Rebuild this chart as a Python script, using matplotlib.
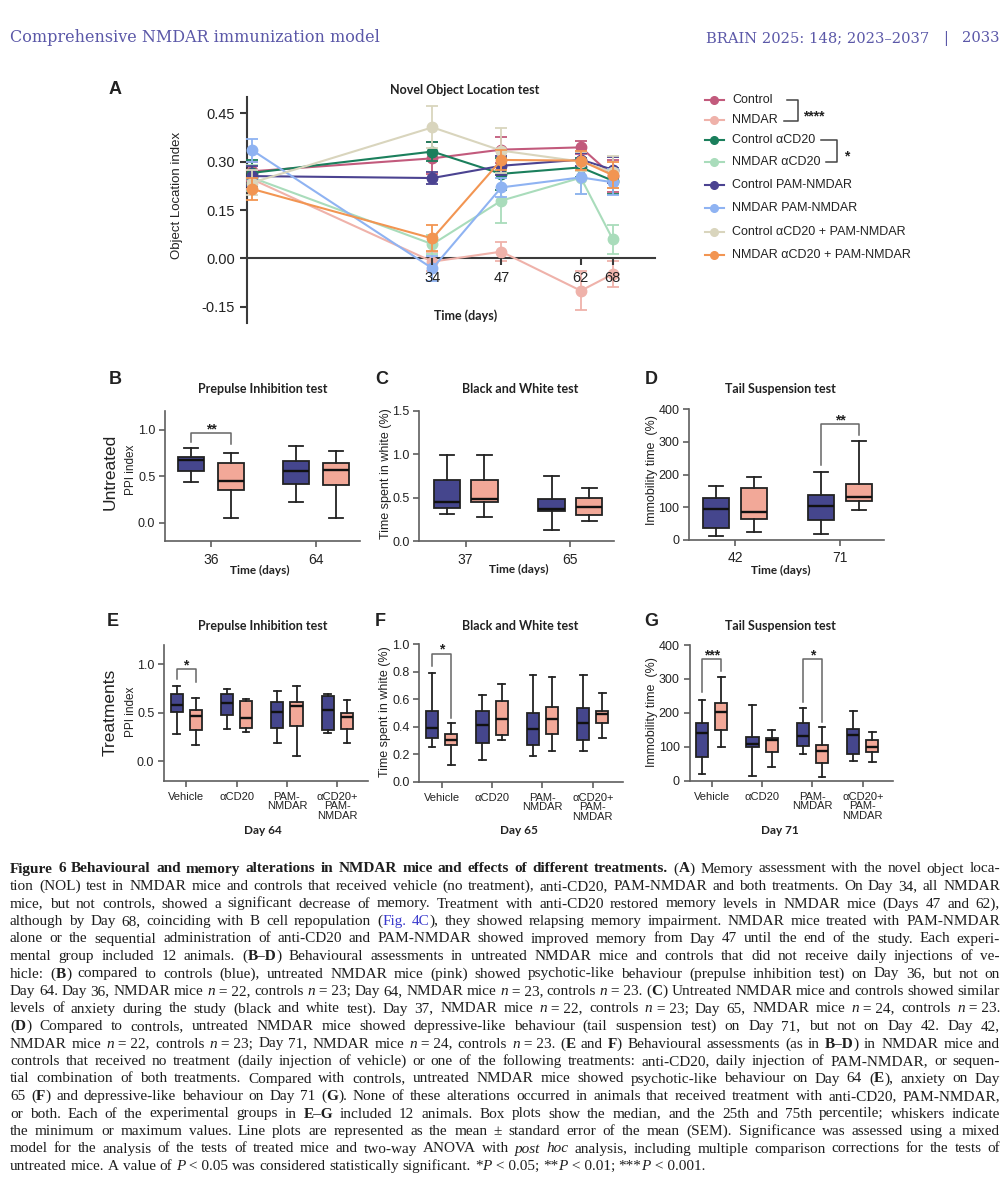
import matplotlib
matplotlib.use('Agg')
import matplotlib.pyplot as plt
from matplotlib import font_manager

# ---------------- data ----------------
nol_days = [0, 34, 47, 62, 68]
nol_tick_days = [34, 47, 62, 68]
nol_groups = ['Control', 'NMDAR', 'Control αCD20', 'NMDAR αCD20', 'Control PAM-NMDAR',
              'NMDAR PAM-NMDAR', 'Control αCD20 + PAM-NMDAR', 'NMDAR αCD20 + PAM-NMDAR']
nol_control = [0.270, 0.310, 0.337, 0.344, 0.256]
nol_nmdar = [0.245, -0.010, 0.021, -0.100, -0.049]
nol_control_cd20 = [0.265, 0.331, 0.262, 0.282, 0.241]
nol_nmdar_cd20 = [0.250, 0.044, 0.179, 0.250, 0.060]
nol_control_pam = [0.255, 0.249, 0.287, 0.306, 0.275]
nol_nmdar_pam = [0.335, -0.031, 0.220, 0.251, 0.236]
nol_control_both = [0.235, 0.406, 0.334, 0.300, 0.267]
nol_nmdar_both = [0.215, 0.062, 0.305, 0.303, 0.258]
sem_control = [0.030, 0.050, 0.040, 0.020, 0.050]
sem_nmdar = [0.030, 0.030, 0.030, 0.060, 0.040]
sem_control_cd20 = [0.040, 0.030, 0.050, 0.030, 0.040]
sem_nmdar_cd20 = [0.040, 0.030, 0.070, 0.050, 0.045]
sem_control_pam = [0.030, 0.020, 0.030, 0.020, 0.040]
sem_nmdar_pam = [0.035, 0.040, 0.030, 0.050, 0.040]
sem_control_both = [0.040, 0.065, 0.070, 0.030, 0.050]
sem_nmdar_both = [0.035, 0.040, 0.030, 0.030, 0.040]

# box stats: [min, q1, median, q3, max]
ppi_untreated_days = ['36', '64']
ppi_untreated_ctrl = [[0.44, 0.56, 0.67, 0.71, 0.80], [0.22, 0.42, 0.56, 0.66, 0.82]]
ppi_untreated_nmdar = [[0.05, 0.355, 0.45, 0.64, 0.75], [0.05, 0.41, 0.565, 0.64, 0.77]]

bw_untreated_days = ['37', '65']
bw_untreated_ctrl = [[0.315, 0.385, 0.455, 0.71, 0.99], [0.135, 0.355, 0.375, 0.49, 0.75]]
bw_untreated_nmdar = [[0.28, 0.45, 0.49, 0.71, 0.99], [0.24, 0.31, 0.40, 0.50, 0.62]]

tst_untreated_days = ['42', '71']
tst_untreated_ctrl = [[13, 38, 94, 127, 166], [18, 60, 105, 137, 207]]
tst_untreated_nmdar = [[23, 63, 86, 158, 191], [92, 119, 132, 170, 302]]

treatments = ['Vehicle', 'αCD20', 'PAM-\nNMDAR', 'αCD20+\nPAM-\nNMDAR']
ppi_treat_ctrl = [[0.28, 0.51, 0.58, 0.69, 0.78], [0.33, 0.48, 0.60, 0.69, 0.75],
                  [0.19, 0.34, 0.51, 0.61, 0.72], [0.29, 0.32, 0.53, 0.67, 0.69]]
ppi_treat_nmdar = [[0.17, 0.32, 0.47, 0.53, 0.65], [0.30, 0.34, 0.445, 0.62, 0.645],
                   [0.05, 0.36, 0.565, 0.61, 0.78], [0.19, 0.33, 0.455, 0.50, 0.63]]
bw_treat_ctrl = [[0.255, 0.32, 0.39, 0.515, 0.79], [0.16, 0.285, 0.41, 0.515, 0.63],
                 [0.19, 0.27, 0.38, 0.50, 0.78], [0.225, 0.30, 0.425, 0.535, 0.775]]
bw_treat_nmdar = [[0.125, 0.265, 0.30, 0.35, 0.43], [0.30, 0.34, 0.455, 0.59, 0.71],
                  [0.22, 0.345, 0.455, 0.545, 0.76], [0.315, 0.425, 0.49, 0.515, 0.645]]
tst_treat_ctrl = [[19, 71, 140, 169, 238], [14, 100, 107, 128, 223],
                  [78, 103, 132, 169, 213], [59, 78, 135, 152, 204]]
tst_treat_nmdar = [[98, 148, 202, 230, 307], [41, 86, 120, 127, 150],
                   [12, 51, 88, 105, 159], [56, 84, 100, 120, 143]]

# significance annotations: (group, label, bracket top, left leg end, right leg end)
sig_ppi_untreated = [(0, '**', 0.96, 0.87, 0.845)]
sig_tst_untreated = [(1, '**', 354, 230, 320)]
sig_ppi_treat = [(0, '*', 0.95, 0.85, 0.82)]
sig_bw_treat = [(0, '*', 0.93, 0.84, 0.46)]
sig_tst_treat = [(0, '***', 358, 261, 322), (2, '*', 358, 231, 174)]

caption_lines = [
    "§Figure 6  Behavioural and memory alterations in NMDAR mice and effects of different treatments.§ (§A§) Memory assessment with the novel object loca-",
    "tion (NOL) test in NMDAR mice and controls that received vehicle (no treatment), anti-CD20, PAM-NMDAR and both treatments. On Day 34, all NMDAR",
    "mice, but not controls, showed a significant decrease of memory. Treatment with anti-CD20 restored memory levels in NMDAR mice (Days 47 and 62),",
    "although by Day 68, coinciding with B cell repopulation (¤Fig. 4C¤), they showed relapsing memory impairment. NMDAR mice treated with PAM-NMDAR",
    "alone or the sequential administration of anti-CD20 and PAM-NMDAR showed improved memory from Day 47 until the end of the study. Each experi-",
    "mental group included 12 animals. (§B–D§) Behavioural assessments in untreated NMDAR mice and controls that did not receive daily injections of ve-",
    "hicle: (§B§) compared to controls (blue), untreated NMDAR mice (pink) showed psychotic-like behaviour (prepulse inhibition test) on Day 36, but not on",
    "Day 64. Day 36, NMDAR mice ¦n¦~=~22, controls ¦n¦~=~23; Day 64, NMDAR mice ¦n¦~=~23, controls ¦n¦~=~23. (§C§) Untreated NMDAR mice and controls showed similar",
    "levels of anxiety during the study (black and white test). Day 37, NMDAR mice ¦n¦~=~22, controls ¦n¦~=~23; Day 65, NMDAR mice ¦n¦~=~24, controls ¦n¦~=~23.",
    "(§D§) Compared to controls, untreated NMDAR mice showed depressive-like behaviour (tail suspension test) on Day 71, but not on Day 42. Day 42,",
    "NMDAR mice ¦n¦~=~22, controls ¦n¦~=~23; Day 71, NMDAR mice ¦n¦~=~24, controls ¦n¦~=~23. (§E§ and §F§) Behavioural assessments (as in §B–D§) in NMDAR mice and",
    "controls that received no treatment (daily injection of vehicle) or one of the following treatments: anti-CD20, daily injection of PAM-NMDAR, or sequen-",
    "tial combination of both treatments. Compared with controls, untreated NMDAR mice showed psychotic-like behaviour on Day 64 (§E§), anxiety on Day",
    "65 (§F§) and depressive-like behaviour on Day 71 (§G§). None of these alterations occurred in animals that received treatment with anti-CD20, PAM-NMDAR,",
    "or both. Each of the experimental groups in §E–G§ included 12 animals. Box plots show the median, and the 25th and 75th percentile; whiskers indicate",
    "the minimum or maximum values. Line plots are represented as the mean ± standard error of the mean (SEM). Significance was assessed using a mixed",
    "model for the analysis of the tests of treated mice and two-way ANOVA with ¦post hoc¦ analysis, including multiple comparison corrections for the tests of",
    "untreated mice. A value of ¦P¦~<~0.05 was considered statistically significant. *¦P¦~<~0.05; **¦P¦~<~0.01; ***¦P¦~<~0.001.",
]

# ---------------- style ----------------
_names = {f.name for f in font_manager.fontManager.ttflist}
SANS = 'Liberation Sans' if 'Liberation Sans' in _names else 'DejaVu Sans'
HAS_NARROW = 'Liberation Sans Narrow' in _names
NARROW = 'Liberation Sans Narrow' if HAS_NARROW else SANS
TFONT = 'Lato' if 'Lato' in _names else SANS
SERIF = 'Liberation Serif' if 'Liberation Serif' in _names else 'DejaVu Serif'
HSERIF = 'DejaVu Serif'
plt.rcParams['font.family'] = [SANS, 'DejaVu Sans']

nol_colors = ['#c25a7c', '#efb2aa', '#1b7f5c', '#a9dcbb', '#4b4391', '#8fb3f2', '#d9d5bd', '#f29552']
CTRL_FC = '#45468d'
NMDAR_FC = '#f2a898'
EDGE = '#222222'
AXC = '#5f5f5f'
TXT = '#222222'
HEAD = '#5b58a8'

W, H = 1003, 1200
fig = plt.figure(figsize=(W / 100, H / 100), dpi=100)
fig.patch.set_facecolor('white')


def add_ax(l, t, r, b):
    return fig.add_axes([l / W, 1 - b / H, (r - l) / W, (b - t) / H])


def T(x, y, s, **kw):
    kw.setdefault('ha', 'center')
    kw.setdefault('va', 'center')
    kw.setdefault('color', TXT)
    return fig.text(x / W, 1 - y / H, s, **kw)


# ---------------- header ----------------
T(10, 42, 'Comprehensive NMDAR immunization model', ha='left', va='baseline',
  fontsize=11.5, family=HSERIF, color=HEAD)
T(929, 42, 'BRAIN 2025: 148; 2023–2037', ha='right', va='baseline', fontsize=10.6, family=HSERIF, color=HEAD)
T(946, 42, '|', ha='center', va='baseline', fontsize=10.6, family=HSERIF, color=HEAD)
T(1000, 42, '2033', ha='right', va='baseline', fontsize=10.6, family=HSERIF, color=HEAD)

# ---------------- panel A ----------------
axA = add_ax(247, 97, 655, 323)
axA.set_xlim(-1, 76)
axA.set_ylim(-0.2, 0.5)
nol_means = [nol_control, nol_nmdar, nol_control_cd20, nol_nmdar_cd20,
             nol_control_pam, nol_nmdar_pam, nol_control_both, nol_nmdar_both]
nol_sems = [sem_control, sem_nmdar, sem_control_cd20, sem_nmdar_cd20,
            sem_control_pam, sem_nmdar_pam, sem_control_both, sem_nmdar_both]
for i, (m, s, c) in enumerate(zip(nol_means, nol_sems, nol_colors)):
    cont = axA.errorbar(nol_days, m, yerr=s, color=c, marker='o', ms=7.5, lw=1.5,
                        elinewidth=1.3, capsize=4, capthick=1.3, zorder=3 + i * 0.1)
    for art in cont.get_children():
        art.set_clip_on(False)
for sp in ['top', 'right']:
    axA.spines[sp].set_visible(False)
axA.spines['bottom'].set_position(('data', 0))
for sp in ['left', 'bottom']:
    axA.spines[sp].set_color('#3a3a3a')
    axA.spines[sp].set_linewidth(1.5)
axA.set_yticks([-0.15, 0.0, 0.15, 0.30, 0.45])
axA.set_yticklabels(['-0.15', '0.00', '0.15', '0.30', '0.45'])
axA.set_xticks(nol_tick_days)
axA.set_xticklabels([str(d) for d in nol_tick_days])
axA.tick_params(axis='both', colors='#3a3a3a', width=1.5, length=5, labelsize=10.5, labelcolor=TXT)
axA.tick_params(axis='x', pad=4)
axA.xaxis.set_zorder(10)
axA.set_facecolor('none')
T(115, 90, 'A', fontsize=13, fontweight='bold')
T(465, 90, 'Novel Object Location test', fontsize=9, fontweight='bold', family=TFONT)
T(177, 195, 'Object Location index', rotation=90, fontsize=9.5)
T(466, 316, 'Time (days)', fontsize=9, fontweight='bold', family=TFONT)

# legend
legax = add_ax(690, 85, 1003, 275)
legax.set_xlim(690, 1003)
legax.set_ylim(275, 85)
legax.axis('off')
leg_rows = [100, 120, 140, 162, 185, 208, 232, 255]
for lab, c, y in zip(nol_groups, nol_colors, leg_rows):
    legax.plot([705, 724], [y, y], color=c, lw=1.5)
    legax.plot([714.5], [y], marker='o', ms=5.5, color=c)
    legax.text(732, y, lab, ha='left', va='center', fontsize=9, color=TXT)
legax.plot([787, 798, 798, 784], [100, 100, 121, 121], color='#444', lw=1.1)
legax.text(803, 120, '****', ha='left', va='baseline', fontsize=10, fontweight='bold', color=TXT)
legax.plot([821, 837, 837, 826], [140, 140, 162, 162], color='#444', lw=1.1)
legax.text(844, 160, '*', ha='left', va='baseline', fontsize=10, fontweight='bold', color=TXT)

# ---------------- box panels ----------------
fs_tick = 10 if HAS_NARROW else 9
fs_tick_small = 9 if HAS_NARROW else 8


def box_panel(rect, xlim, ylim, yticks, yticklabels, ctrl, nmdar, xlabels, off, bw,
              sigs, xfs, yfs):
    ax = add_ax(*rect)
    n = len(ctrl)
    for stats5, sign, fc in ((ctrl, -1, CTRL_FC), (nmdar, 1, NMDAR_FC)):
        st = [dict(whislo=s[0], q1=s[1], med=s[2], q3=s[3], whishi=s[4], fliers=[]) for s in stats5]
        pos = [i + sign * off for i in range(n)]
        ax.bxp(st, positions=pos, widths=bw, patch_artist=True, showfliers=False,
               manage_ticks=False,
               boxprops=dict(facecolor=fc, edgecolor=EDGE, linewidth=1.3),
               medianprops=dict(color='#111111', linewidth=1.7),
               whiskerprops=dict(color=EDGE, linewidth=1.3),
               capprops=dict(color=EDGE, linewidth=1.3),
               capwidths=bw * 0.55)
    for g, lab, top, lb, rb in sigs:
        x1, x2 = g - off, g + off
        ax.plot([x1, x1, x2, x2], [lb, top, top, rb], color='#666666', lw=1.1, clip_on=False)
        ax.text(g, top, lab, ha='center', va='baseline', fontsize=10, fontweight='bold',
                color=TXT, clip_on=False)
    ax.set_xlim(*xlim)
    ax.set_ylim(*ylim)
    ax.set_yticks(yticks)
    ax.set_yticklabels(yticklabels, family=NARROW, fontsize=yfs)
    ax.set_xticks(list(range(n)))
    ax.set_xticklabels(xlabels, family=NARROW, fontsize=xfs)
    for sp in ['top', 'right']:
        ax.spines[sp].set_visible(False)
    for sp in ['left', 'bottom']:
        ax.spines[sp].set_color(AXC)
        ax.spines[sp].set_linewidth(1.2)
    ax.tick_params(axis='both', colors=AXC, width=1.2, length=4.5, labelcolor=TXT)
    ax.tick_params(axis='y', pad=2.5)
    ax.set_facecolor('none')
    return ax


xlim2 = (-0.44, 1.42)
box_panel((165, 411, 360, 541.5), xlim2, (-0.2, 1.2), [0, 0.5, 1.0], ['0.0', '0.5', '1.0'],
          ppi_untreated_ctrl, ppi_untreated_nmdar, ppi_untreated_days, 0.19, 0.25,
          sig_ppi_untreated, fs_tick + 1, fs_tick)
box_panel((419.5, 411, 614.5, 541.5), xlim2, (0, 1.5), [0, 0.5, 1.0, 1.5],
          ['0.0', '0.5', '1.0', '1.5'],
          bw_untreated_ctrl, bw_untreated_nmdar, bw_untreated_days, 0.18, 0.25,
          [], fs_tick + 1, fs_tick)
box_panel((689, 409, 884, 540), xlim2, (0, 400), [0, 100, 200, 300, 400],
          ['0', '100', '200', '300', '400'],
          tst_untreated_ctrl, tst_untreated_nmdar, tst_untreated_days, 0.18, 0.25,
          sig_tst_untreated, fs_tick + 1, fs_tick)

xlim4 = (-0.44, 3.6)
axE = box_panel((164, 645, 367.6, 780.5), xlim4, (-0.2, 1.2), [0, 0.5, 1.0], ['0.0', '0.5', '1.0'],
                ppi_treat_ctrl, ppi_treat_nmdar, treatments, 0.19, 0.24,
                sig_ppi_treat, fs_tick_small, fs_tick)
axF = box_panel((419.5, 644.3, 623, 781.7), xlim4, (0, 1.0), [0, 0.2, 0.4, 0.6, 0.8, 1.0],
                ['0.0', '0.2', '0.4', '0.6', '0.8', '1.0'],
                bw_treat_ctrl, bw_treat_nmdar, treatments, 0.19, 0.24,
                sig_bw_treat, fs_tick_small, fs_tick)
axG = box_panel((689.5, 645, 893, 780.7), xlim4, (0, 400), [0, 100, 200, 300, 400],
                ['0', '100', '200', '300', '400'],
                tst_treat_ctrl, tst_treat_nmdar, treatments, 0.19, 0.24,
                sig_tst_treat, fs_tick_small, fs_tick)
for ax in (axE, axF, axG):
    for lbl in ax.get_xticklabels():
        lbl.set_linespacing(0.95)

# panel texts
T(115, 380, 'B', fontsize=13, fontweight='bold')
T(382, 379, 'C', fontsize=13, fontweight='bold')
T(651, 379, 'D', fontsize=13, fontweight='bold')
T(113, 621, 'E', fontsize=13, fontweight='bold')
T(380, 621, 'F', fontsize=13, fontweight='bold')
T(651, 621, 'G', fontsize=13, fontweight='bold')
for x, y, s in [(263, 389, 'Prepulse Inhibition test'), (520, 389, 'Black and White test'),
                (780, 389, 'Tail Suspension test'), (263, 626, 'Prepulse Inhibition test'),
                (520, 626, 'Black and White test'), (780, 626, 'Tail Suspension test')]:
    T(x, y, s, fontsize=9, fontweight='bold', family=TFONT)
for x, y in [(260, 570), (519, 569), (781, 570)]:
    T(x, y, 'Time (days)', fontsize=8.5, fontweight='bold', family=TFONT)
for x, s in [(263, 'Day 64'), (519, 'Day 65'), (780, 'Day 71')]:
    T(x, 830, s, fontsize=8.5, fontweight='bold', family=TFONT)
T(110, 472, 'Untreated', rotation=90, fontsize=12.5)
T(110, 712, 'Treatments', rotation=90, fontsize=12.5)
T(131, 470, 'PPI index', rotation=90, fontsize=8.5)
T(131, 712, 'PPI index', rotation=90, fontsize=8.5)
T(386, 474, 'Time spent in white (%)', rotation=90, fontsize=9)
T(385, 712, 'Time spent in white (%)', rotation=90, fontsize=9)
T(652, 470, 'Immobility time  (%)', rotation=90, fontsize=9)
T(652, 712, 'Immobility time  (%)', rotation=90, fontsize=9)

# ---------------- caption (justified) ----------------
renderer = fig.canvas.get_renderer()
X0, X1 = 10, 1000
CAP_FS = 11.0
LINK = '#3a3acc'


def parse_line(line):
    words, cur, seg = [], [], ['']
    state = {'b': False, 'i': False, 'u': False}

    def flush():
        if seg[0]:
            cur.append((seg[0], state['b'], state['i'], state['u']))
            seg[0] = ''
    for ch in line:
        if ch == '§':
            flush(); state['b'] = not state['b']
        elif ch == '¦':
            flush(); state['i'] = not state['i']
        elif ch == '¤':
            flush(); state['u'] = not state['u']
        elif ch == ' ':
            flush()
            if cur:
                words.append(list(cur)); cur.clear()
        elif ch == '~':
            seg[0] += ' '
        else:
            seg[0] += ch
    flush()
    if cur:
        words.append(list(cur))
    return words


def layout_line(words, justify, fs):
    items, total = [], 0.0
    for w in words:
        segs, ww = [], 0.0
        for s, b, it, u in w:
            t = fig.text(0, 0, s, fontsize=fs, family=SERIF,
                         fontweight='bold' if b else 'normal',
                         fontstyle='italic' if it else 'normal',
                         color=LINK if u else '#1e1e1e', ha='left', va='baseline')
            wp = t.get_window_extent(renderer).width
            segs.append((t, wp)); ww += wp
        items.append((segs, ww)); total += ww
    n = len(items)
    gap = (X1 - X0 - total) / (n - 1) if (justify and n > 1) else fs * 100 / 72 * 0.25
    return items, gap


for i, line in enumerate(caption_lines):
    y_base = 868 + i * 17.5 + 4.5
    words = parse_line(line)
    justify = i < len(caption_lines) - 1
    fs = CAP_FS
    items, gap = layout_line(words, justify, fs)
    if justify and gap < 2.4:
        for segs, _ in items:
            for t, _ in segs:
                t.remove()
        total = sum(ww for _, ww in items)
        fs = fs * (X1 - X0 - 2.6 * (len(items) - 1)) / total
        items, gap = layout_line(words, justify, fs)
    x = X0
    for segs, ww in items:
        xx = x
        for t, wp in segs:
            t.set_position((xx / W, 1 - y_base / H))
            xx += wp
        x += ww + gap

fig.savefig('out.png', dpi=100, facecolor='white')
